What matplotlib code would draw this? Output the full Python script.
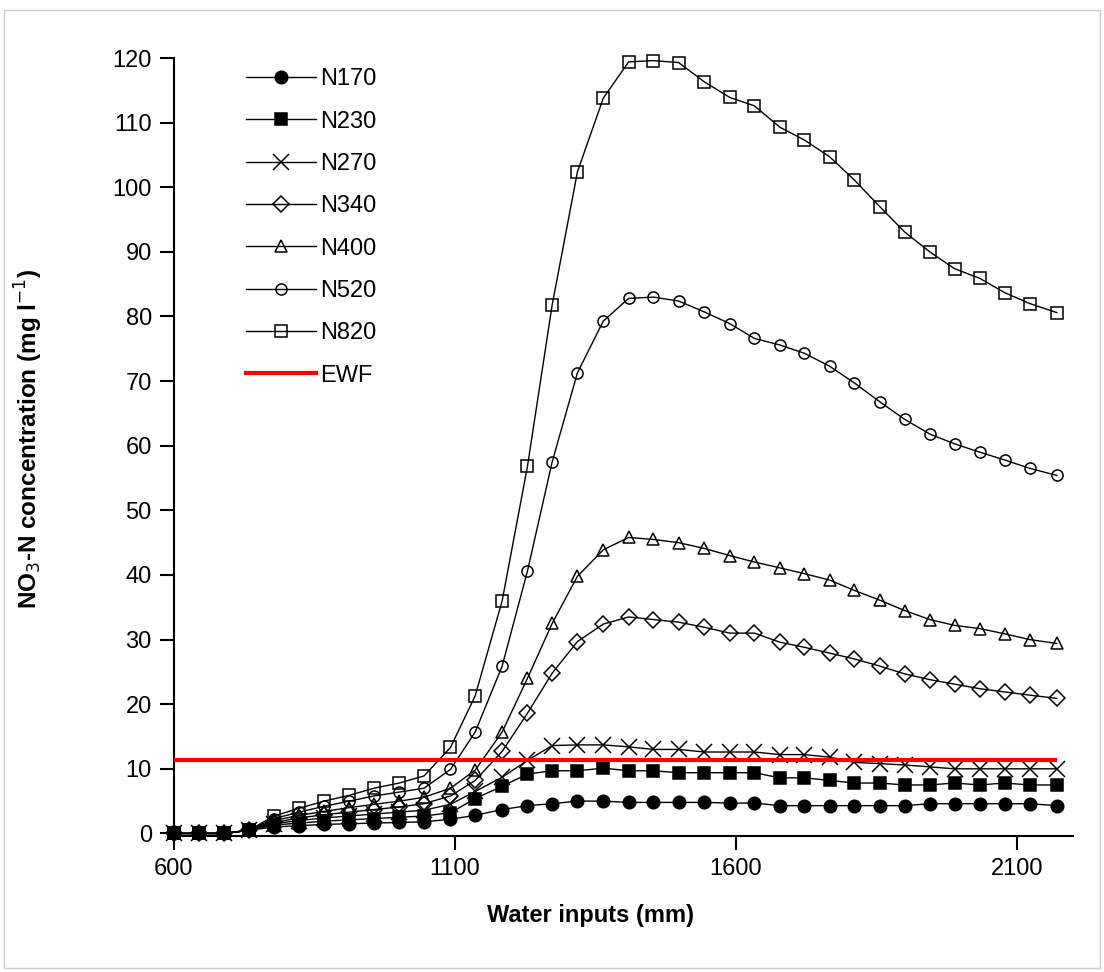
import matplotlib
matplotlib.use("Agg")
import matplotlib.pyplot as plt
from matplotlib.patches import Rectangle

plt.rcParams['font.family'] = ['Liberation Sans', 'DejaVu Sans']

# Water inputs (mm)
water = [600, 645, 689, 734, 778, 823, 867, 912, 956, 1001, 1045, 1092,
         1136, 1184, 1229, 1273, 1318, 1364, 1409, 1453, 1498, 1544, 1589, 1633,
         1678, 1722, 1767, 1811, 1856, 1900, 1945, 1989, 2034, 2078, 2123, 2171]

# NO3-N concentration (mg l-1) per treatment
n170 = [0, 0, 0, 0.5, 1.0, 1.2, 1.4, 1.5, 1.6, 1.7, 1.8, 2.2,
        2.8, 3.7, 4.3, 4.6, 5.0, 5.0, 4.8, 4.8, 4.8, 4.8, 4.7, 4.7,
        4.3, 4.3, 4.3, 4.3, 4.3, 4.3, 4.6, 4.6, 4.6, 4.6, 4.6, 4.3]
n230 = [0, 0, 0, 0.5, 1.3, 1.6, 1.9, 2.1, 2.3, 2.5, 2.7, 3.2,
        5.4, 7.3, 9.2, 9.7, 9.7, 10.1, 9.7, 9.7, 9.4, 9.4, 9.4, 9.4,
        8.6, 8.6, 8.2, 7.8, 7.8, 7.5, 7.5, 7.8, 7.5, 7.8, 7.5, 7.5]
n270 = [0, 0, 0, 0.5, 1.5, 2.0, 2.4, 2.7, 3.0, 3.3, 3.6, 4.5,
        6.5, 8.7, 11.3, 13.6, 13.7, 13.7, 13.4, 13.0, 13.0, 12.6, 12.6, 12.6,
        12.2, 12.2, 11.8, 11.0, 10.8, 10.6, 10.3, 10.0, 10.0, 10.0, 10.0, 10.0]
n340 = [0, 0, 0, 0.5, 1.7, 2.4, 2.9, 3.3, 3.7, 4.1, 4.6, 5.8,
        8.2, 12.7, 18.6, 24.8, 29.7, 32.4, 33.5, 33.1, 32.7, 31.9, 31.0, 31.0,
        29.6, 28.8, 27.9, 27.0, 25.9, 24.7, 23.8, 23.1, 22.4, 21.9, 21.4, 20.9]
n400 = [0, 0, 0, 0.5, 2.0, 2.8, 3.4, 4.0, 4.5, 5.0, 5.6, 7.0,
        9.8, 15.7, 24.0, 32.5, 39.8, 43.9, 45.8, 45.5, 45.0, 44.1, 43.0, 42.0,
        41.1, 40.2, 39.2, 37.6, 36.1, 34.5, 33.1, 32.2, 31.7, 30.9, 30.0, 29.4]
n520 = [0, 0, 0, 0.5, 2.3, 3.3, 4.2, 5.0, 5.8, 6.4, 7.0, 9.9,
        15.7, 25.9, 40.6, 57.5, 71.3, 79.3, 82.8, 83.0, 82.4, 80.7, 78.9, 76.6,
        75.6, 74.3, 72.3, 69.7, 66.8, 64.1, 61.8, 60.3, 59.0, 57.8, 56.5, 55.4]
n820 = [0, 0, 0, 0.5, 2.7, 3.9, 5.0, 5.9, 7.0, 7.8, 8.9, 13.3,
        21.3, 36.0, 56.8, 81.8, 102.4, 113.8, 119.4, 119.6, 119.3, 116.3, 113.9, 112.6,
        109.3, 107.3, 104.7, 101.1, 97.0, 93.1, 90.0, 87.4, 85.9, 83.7, 82.0, 80.6]
ewf = 11.3  # EU drinking water limit (mg NO3-N l-1)

labels = ["N170", "N230", "N270", "N340", "N400", "N520", "N820"]
series = [n170, n230, n270, n340, n400, n520, n820]
markers = ["o", "s", "x", "D", "^", "o", "s"]
sizes = [9, 9, 11, 8, 9, 8, 9]
filled = [True, True, False, False, False, False, False]

fig = plt.figure(figsize=(11.04, 9.72), dpi=100)
ax = fig.add_axes([0.1576, 0.1399, 0.8144, 0.8004])

handles = []
for lab, ys, m, ms, f in zip(labels, series, markers, sizes, filled):
    h, = ax.plot(water, ys, marker=m, markersize=ms, color="black", lw=1.0,
                 markerfacecolor="black" if f else "none",
                 markeredgecolor="black", markeredgewidth=1.1, clip_on=False)
    handles.append(h)

ax.hlines(ewf, water[0], water[-1], color="red", lw=3, zorder=5)
h_ewf, = ax.plot([], [], color="red", lw=3)

ax.set_xlim(600, 2200)
ax.set_ylim(-0.4, 120)
ax.set_xticks([600, 1100, 1600, 2100])
ax.set_yticks(range(0, 121, 10))
ax.tick_params(direction="out", length=10, width=1.5, labelsize=17, pad=6)
for s in ["top", "right"]:
    ax.spines[s].set_visible(False)
for s in ["left", "bottom"]:
    ax.spines[s].set_linewidth(1.5)

ax.set_xlabel("Water inputs (mm)", fontsize=17, fontweight="bold")
ax.xaxis.set_label_coords(0.463, -0.088)
ax.set_ylabel("NO$_3$-N concentration (mg l$^{-1}$)", fontsize=17.5, fontweight="bold")
ax.yaxis.set_label_coords(-0.1435, 0.51)

leg = ax.legend(handles + [h_ewf], labels + ["EWF"],
                loc="upper left", bbox_to_anchor=(0.056, 1.014), frameon=False,
                fontsize=17, handlelength=3.0, handletextpad=0.15, labelspacing=0.86)

fig.patches.append(Rectangle((0.004, 0.004), 0.992, 0.986, transform=fig.transFigure,
                             fill=False, edgecolor="#cccccc", lw=1))

fig.savefig("out.png", dpi=100)
